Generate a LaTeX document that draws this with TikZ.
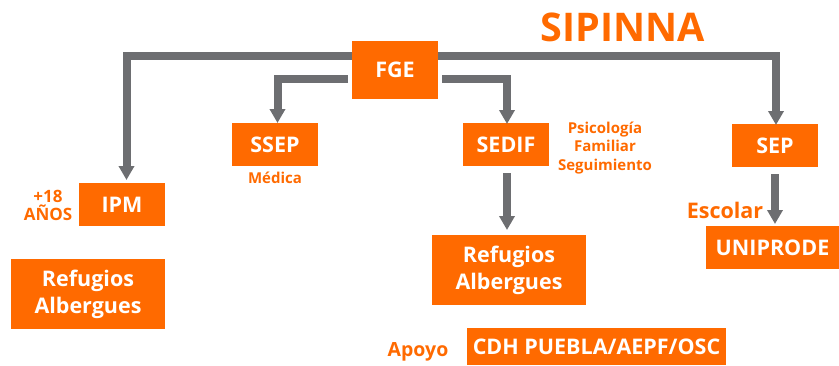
\documentclass[tikz,border=0pt]{standalone}
\usepackage{fontspec}
\setmainfont{Open Sans}
\usetikzlibrary{arrows.meta}
\definecolor{org}{HTML}{FF6A00}
\definecolor{gry}{HTML}{6D6E71}
\tikzset{
  box/.style={fill=org, text=white, inner sep=0pt, align=center,
    font=\bfseries\fontsize{21.5}{27}\selectfont},
  lbl/.style={text=org, inner sep=0pt, align=center},
  conn/.style={draw=gry, line width=8pt,
    -{Triangle[width=15pt,length=14pt]}}
}
\begin{document}
\begin{tikzpicture}[x=1pt,y=-1pt]
\useasboundingbox (0,0) rectangle (839,365);
% nodes
\node[box, minimum width=86pt, minimum height=58pt] (fge) at (395,70) {FGE};
\node[box, minimum width=86pt, minimum height=43pt] (ssep) at (275,144.5) {SSEP};
\node[box, minimum width=86pt, minimum height=43pt] (ipm) at (122,204.5) {IPM};
\node[box, minimum width=154pt, minimum height=70pt] (refl) at (88,294) {Refugios\\Albergues};
\node[box, minimum width=86pt, minimum height=43pt] (sedif) at (506,144.5) {SEDIF};
\node[box, minimum width=86pt, minimum height=43pt] (sep) at (775,145.5) {SEP};
\node[box, minimum width=154pt, minimum height=70pt] (refm) at (509,270) {Refugios\\Albergues};
\node[box, minimum width=133pt, minimum height=43pt] (uni) at (772.5,247.5) {UNIPRODE};
\node[box, minimum width=259pt, minimum height=37pt] (cdh) at (596.5,346.5) {CDH PUEBLA/AEPF/OSC};
% labels
\node[lbl, font=\bfseries\fontsize{39.5}{40}\selectfont] (title) at (623,27) {SIPINNA};
\node[lbl, font=\bfseries\fontsize{15}{16}\selectfont] (medica) at (275,178) {Médica};
\node[lbl, font=\bfseries\fontsize{15}{18.5}\selectfont] (psico) at (605,148) {Psicología\\Familiar\\Seguimiento};
\node[lbl, font=\bfseries\fontsize{17}{18}\selectfont] (anos) at (48,205) {+18\\AÑOS};
\node[lbl, font=\bfseries\fontsize{21.5}{22}\selectfont] (escolar) at (725,210) {Escolar};
\node[lbl, font=\bfseries\fontsize{19.5}{20}\selectfont] (apoyo) at (418,352) {Apoyo};
% connectors
\coordinate (fgeL1) at (352,56);
\coordinate (fgeR1) at (438,56);
\coordinate (fgeL2) at (348,79);
\coordinate (fgeR2) at (442,79);
\draw[conn] (fgeL1) -| (126.5,180);
\draw[conn] (fgeR1) -| (776,125);
\draw[conn] (fgeL2) -| (277.5,123);
\draw[conn] (fgeR2) -| (507,124);
\draw[conn] (507,173) -- (507,230);
\draw[conn] (775,174) -- (775,224);
\end{tikzpicture}
\end{document}
